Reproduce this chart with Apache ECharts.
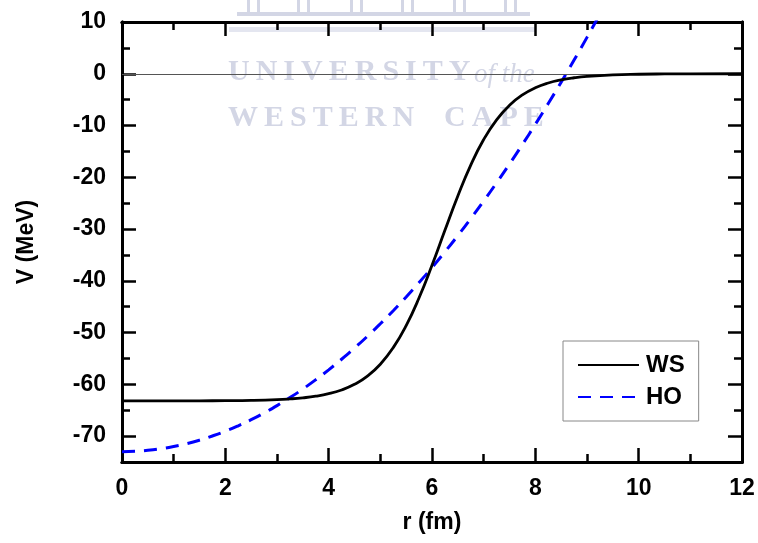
<!DOCTYPE html>
<html>
<head>
<meta charset="utf-8">
<script src="https://cdn.jsdelivr.net/npm/echarts@6/dist/echarts.min.js"></script>
<style>
html,body{margin:0;padding:0;background:#fff;}
#chart{width:758px;height:543px;}
</style>
</head>
<body>
<div id="chart"></div>
<script>
// Woods-Saxon potential
const wsR = [0, 0.5, 1, 1.5, 2, 2.5, 3, 3.25, 3.5, 3.75, 4, 4.25, 4.5, 4.75, 5, 5.25, 5.5, 5.75, 6, 6.25, 6.5, 6.75, 7, 7.25, 7.5, 7.75, 8, 8.25, 8.5, 8.75, 9, 9.5, 10, 10.5, 11, 12];
const wsV = [-63.2, -63.2, -63.2, -63.18, -63.15, -63.09, -62.95, -62.81, -62.6, -62.29, -61.81, -61.08, -60.0, -58.41, -56.11, -52.91, -48.65, -43.28, -37.0, -30.24, -23.61, -17.65, -12.71, -8.89, -6.08, -4.09, -2.72, -1.79, -1.18, -0.77, -0.5, -0.21, -0.09, -0.04, -0.02, 0];
// Harmonic oscillator potential
const hoR = [0, 0.25, 0.5, 0.75, 1, 1.25, 1.5, 1.75, 2, 2.25, 2.5, 2.75, 3, 3.25, 3.5, 3.75, 4, 4.25, 4.5, 4.75, 5, 5.25, 5.5, 5.75, 6, 6.25, 6.5, 6.75, 7, 7.25, 7.5, 7.75, 8, 8.25, 8.5, 8.75, 9, 9.25];
const hoV = [-73, -72.94, -72.75, -72.44, -72.01, -71.46, -70.78, -69.97, -69.05, -68.0, -66.83, -65.53, -64.11, -62.56, -60.9, -59.11, -57.19, -55.15, -52.99, -50.71, -48.3, -45.77, -43.11, -40.33, -37.43, -34.41, -31.26, -27.98, -24.59, -21.07, -17.43, -13.66, -9.77, -5.75, -1.62, 2.64, 7.03, 11.54];

const xTicks = [0, 2, 4, 6, 8, 10, 12];
const yTicks = [-70, -60, -50, -40, -30, -20, -10, 0, 10];

const FONT = '"Liberation Sans", Arial, sans-serif';
const WM = '#d3d6e5';
const WMFONT = 'bold 30px "Liberation Serif", "DejaVu Serif", serif';

const chart = echarts.init(document.getElementById('chart'), null, {renderer: 'canvas'});

const axisLine = {show: true, onZero: false, lineStyle: {color: '#000', width: 3}};
const majorTick = {show: true, inside: true, length: 14, lineStyle: {color: '#000', width: 2.5}};
const minorTick = {show: true, inside: true, length: 8, lineStyle: {color: '#000', width: 2.5}};
const noLabel = {show: false};
const noSplit = {show: false};

function pairs(xs, ys) { return xs.map((x, i) => [x, ys[i]]); }

const logo = [];
[247, 297, 350, 401, 453, 504].forEach(x => {
  logo.push({type: 'rect', z: -10, shape: {x: x, y: 0, width: 3, height: 12}, style: {fill: WM}});
  logo.push({type: 'rect', z: -10, shape: {x: x + 10, y: 0, width: 3, height: 12}, style: {fill: WM}});
});
logo.push({type: 'rect', z: -10, shape: {x: 237, y: 12, width: 293, height: 4}, style: {fill: WM}});
logo.push({type: 'rect', z: -10, shape: {x: 229, y: 27, width: 307, height: 5}, style: {fill: '#e4e6f0'}});

const labelFont = {fontFamily: FONT, fontWeight: 'bold', fontSize: 23, color: '#000'};

chart.setOption({
  animation: false,
  backgroundColor: '#fff',
  grid: {left: 122, right: 16, top: 22, bottom: 81, containLabel: false},
  graphic: logo.concat([
    {type: 'text', z: -10, left: 228, top: 57,
      style: {text: 'U\u2009N\u2009I\u2009V\u2009E\u2009R\u2009S\u2009I\u2009T\u2009Y', fill: WM, font: WMFONT}},
    {type: 'text', z: -10, left: 474, top: 61,
      style: {text: 'of the', fill: WM, font: 'italic 27px "Liberation Serif", "DejaVu Serif", serif'}},
    {type: 'text', z: -10, left: 228, top: 103,
      style: {text: 'W\u2009E\u2009S\u2009T\u2009E\u2009R\u2009N\u2003C\u2009A\u2009P\u2009E', fill: WM, font: WMFONT}}
  ]),
  legend: {
    left: 563, top: 341,
    orient: 'vertical',
    padding: [12, 14, 12, 14],
    itemGap: 8,
    itemWidth: 61, itemHeight: 24,
    borderColor: '#888', borderWidth: 1,
    backgroundColor: '#fff',
    itemStyle: {opacity: 0},
    textStyle: {fontFamily: FONT, fontWeight: 'bold', fontSize: 24, color: '#000', padding: [0, 0, 0, 2]},
    data: [{name: 'WS'}, {name: 'HO'}]
  },
  xAxis: [{
    type: 'value', min: 0, max: 12, interval: 2, position: 'bottom',
    axisLine: axisLine, axisTick: majorTick, splitLine: noSplit,
    axisLabel: Object.assign({show: true, margin: 15, customValues: xTicks}, labelFont),
    name: 'r (fm)', nameLocation: 'middle', nameGap: 49,
    nameTextStyle: {fontFamily: FONT, fontWeight: 'bold', fontSize: 23, color: '#000'}
  }, {
    type: 'value', min: 0, max: 12, interval: 2, position: 'top',
    axisLine: axisLine, axisTick: majorTick, splitLine: noSplit, axisLabel: noLabel
  }, {
    type: 'value', min: 0, max: 12, interval: 1, position: 'bottom',
    axisLine: axisLine, axisTick: minorTick, splitLine: noSplit, axisLabel: noLabel
  }, {
    type: 'value', min: 0, max: 12, interval: 1, position: 'top',
    axisLine: axisLine, axisTick: minorTick, splitLine: noSplit, axisLabel: noLabel
  }],
  yAxis: [{
    type: 'value', min: -75, max: 10, interval: 5, position: 'left',
    axisLine: axisLine,
    axisTick: Object.assign({}, majorTick, {customValues: yTicks}),
    splitLine: noSplit,
    axisLabel: Object.assign({show: true, margin: 16, customValues: yTicks}, labelFont),
    name: 'V (MeV)', nameLocation: 'middle', nameGap: 84, nameRotate: 90,
    nameTextStyle: {fontFamily: FONT, fontWeight: 'bold', fontSize: 23, color: '#000'}
  }, {
    type: 'value', min: -75, max: 10, interval: 5, position: 'right',
    axisLine: axisLine,
    axisTick: Object.assign({}, majorTick, {customValues: yTicks}),
    splitLine: noSplit, axisLabel: noLabel
  }, {
    type: 'value', min: -75, max: 10, interval: 5, position: 'left',
    axisLine: axisLine, axisTick: minorTick, splitLine: noSplit, axisLabel: noLabel
  }, {
    type: 'value', min: -75, max: 10, interval: 5, position: 'right',
    axisLine: axisLine, axisTick: minorTick, splitLine: noSplit, axisLabel: noLabel
  }],
  series: [{
    name: 'WS', type: 'line', xAxisIndex: 0, yAxisIndex: 0,
    data: pairs(wsR, wsV), showSymbol: false, symbol: 'none',
    smooth: true, z: 5,
    lineStyle: {color: '#000', width: 2.8, type: 'solid'},
    itemStyle: {color: '#000'},
    markLine: {silent: true, symbol: 'none', label: {show: false},
      lineStyle: {color: '#555', width: 1, type: 'solid'},
      data: [{yAxis: 0}]}
  }, {
    name: 'HO', type: 'line', xAxisIndex: 0, yAxisIndex: 0,
    data: pairs(hoR, hoV), showSymbol: false, symbol: 'none',
    smooth: true, clip: true, z: 4,
    lineStyle: {color: '#0000ff', width: 3, type: [13, 9]},
    itemStyle: {color: '#0000ff'}
  }]
});
</script>
</body>
</html>
